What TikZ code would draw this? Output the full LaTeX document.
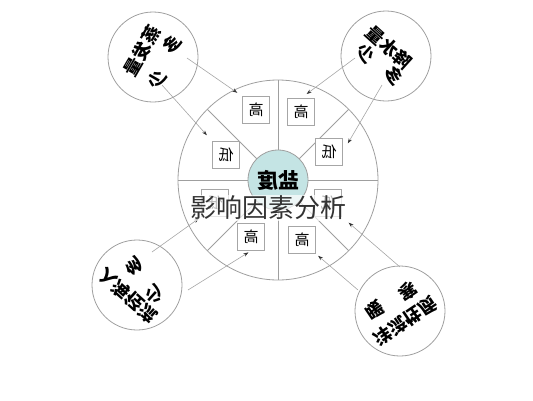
\documentclass[tikz,border=0pt]{standalone}
\usepackage{fontspec}
\newfontfamily\cjk{Noto Sans CJK SC}
\usetikzlibrary{arrows.meta}

\begin{document}
\begin{tikzpicture}[x=1pt, y=-1pt,
    ring/.style={draw=gray!75, line width=0.8pt},
    factor/.style={ring, circle, minimum size=90pt, inner sep=0pt},
    level/.style={draw=gray!70, fill=white, line width=0.6pt, minimum size=27pt, inner sep=0pt, font=\cjk\fontsize{15}{15}\selectfont},
    word/.style={inner sep=0pt, font=\cjk\bfseries\fontsize{18}{18}\selectfont},
    link/.style={draw=gray!70, line width=0.6pt, -{Stealth[length=5pt, width=3.5pt, color=black!80]}},
  ]
\useasboundingbox (0,0) rectangle (533,400);

\definecolor{saltfill}{RGB}{196,228,228}

% wheel
\coordinate (c) at (278,180);
\draw[ring] (c) circle (100);
\draw[ring] (278,80) -- (278,280);
\draw[ring] (178,180) -- (378,180);
\foreach \a in {45,135,225,315}
    \draw[ring] ([shift={(\a:30)}]c) -- ([shift={(\a:100)}]c);
\node[circle, draw=gray!75, line width=0.8pt, fill=saltfill, minimum size=60pt, font=\cjk\bfseries\fontsize{21}{21}\selectfont] (salt) at (c) {\reflectbox{盐度}};

% high / low boxes
\node[level] (tl-hi) at (256,110) {\reflectbox{高}};
\node[level] (tr-hi) at (301,112) {\reflectbox{高}};
\node[level] (l-lo) at (226,155) {\reflectbox{低}};
\node[level] (r-lo) at (329,152) {\reflectbox{低}};
\node[level] (ll-lo) at (215,203) {\reflectbox{低}};
\node[level] (lr-lo) at (328,203) {\reflectbox{低}};
\node[level] (bl-hi) at (251,237) {\reflectbox{高}};
\node[level] (br-hi) at (302,240) {\reflectbox{高}};

% factor circles
\node[factor] (evap) at (153,57) {};
\node[factor] (rain) at (386,56) {};
\node[factor] (river) at (137,285) {};
\node[factor] (current) at (400,311) {};

\node[word, rotate=60] (evap-t) at (141.7,50.8) {\reflectbox{蒸发量}};
\node[word, rotate=60] (evap-a) at (171.7,45) {\reflectbox{多}};
\node[word, rotate=60] (evap-b) at (156.7,80) {\reflectbox{少}};

\node[word, rotate=-42] (rain-t) at (389.2,47.5) {\reflectbox{降水量}};
\node[word, rotate=-42] (rain-a) at (365,53.3) {\reflectbox{少}};
\node[word, rotate=-42] (rain-b) at (393.3,75) {\reflectbox{多}};

\node[word, rotate=138] (river-t) at (127.5,296) {\reflectbox{入海径流}};
\node[word, rotate=138] (river-a) at (135,266.7) {\reflectbox{多}};
\node[word, rotate=138] (river-b) at (155,295) {\reflectbox{少}};

\node[word, rotate=-146] (current-t) at (405,321) {\reflectbox{洋流性质}};
\node[word, rotate=-146] (current-a) at (408.3,291.7) {\reflectbox{寒}};
\node[word, rotate=-146] (current-b) at (375,310) {\reflectbox{暖}};

% arrows
\coordinate (evap-1) at (187,58);
\coordinate (evap-2) at (162,85);
\coordinate (rain-1) at (355,58);
\coordinate (rain-2) at (382,85);
\coordinate (river-1) at (152,252);
\coordinate (river-2) at (188,290);
\coordinate (current-1) at (400,267);
\coordinate (current-2) at (358,290);

\draw[link, shorten >=6pt] (evap-1) -- (tl-hi.north west);
\draw[link, shorten >=8pt] (evap-2) -- (l-lo.north west);
\draw[link, shorten >=7pt] (rain-1) -- (tr-hi.north);
\draw[link, shorten >=10pt] (rain-2) -- (r-lo.east);
\draw[link, shorten >=3pt] (river-1) -- (ll-lo.south west);
\draw[link, shorten >=3pt] (river-2) -- (bl-hi.south);
\draw[link, shorten >=9pt] (current-1) -- (lr-lo.south east);
\draw[link, shorten >=3pt] (current-2) -- (br-hi.south east);

% caption over the wheel
\node[fill=white, fill opacity=0.7, text opacity=1, text=black!80, inner sep=1pt, font=\cjk\fontsize{26}{26}\selectfont] (caption) at (268,208) {影响因素分析};
\end{tikzpicture}
\end{document}
